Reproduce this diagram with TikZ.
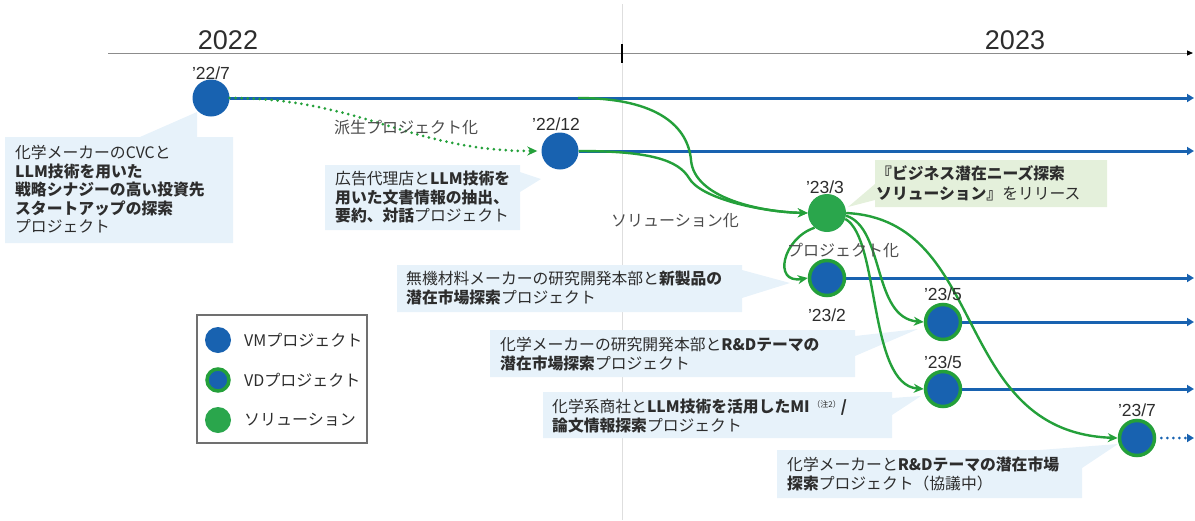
\documentclass[tikz,border=0pt]{standalone}
\usepackage{fontspec}
\setmainfont{Noto Sans CJK JP}
\newfontfamily\lat{Liberation Sans}
\usetikzlibrary{arrows.meta}
\definecolor{vmblue}{RGB}{24,98,176}
\definecolor{vdgreen}{RGB}{36,160,58}
\definecolor{solgreen}{RGB}{42,166,76}
\definecolor{boxblue}{RGB}{231,242,250}
\definecolor{boxgreen}{RGB}{228,240,219}
\definecolor{txtgray}{RGB}{45,45,45}
\definecolor{vgray}{RGB}{222,222,222}
\definecolor{axgray}{RGB}{140,140,140}
\begin{document}
\begin{tikzpicture}[x=1pt,y=-1pt,
  vm/.style={circle, fill=vmblue, minimum size=37pt, inner sep=0pt},
  vd/.style={circle, fill=vmblue, draw=vdgreen, line width=3.5pt, minimum size=35pt, inner sep=0pt},
  sol/.style={circle, fill=solgreen, minimum size=38pt, inner sep=0pt},
  yearlbl/.style={font=\lat\fontsize{27}{27}\selectfont, text=txtgray},
  datelbl/.style={font=\lat\fontsize{17.5}{17.5}\selectfont, text=txtgray},
  body/.style={font=\fontsize{15.8}{18.5}\selectfont, text=txtgray, align=left, inner sep=0pt, anchor=north west},
  flow/.style={font=\fontsize{16}{16}\selectfont, text=txtgray!85},
  bline/.style={vmblue, line width=3pt, -{Triangle[length=7pt,width=8pt]}},
  gline/.style={vdgreen, line width=2.4pt, -{Stealth[length=10pt,width=9pt]}},
  lgtxt/.style={font=\fontsize{16}{16}\selectfont, text=txtgray, anchor=west, inner sep=0pt}
]
\useasboundingbox (0,0) rectangle (1195,520);

% background guide and axis
\draw[vgray, line width=0.8pt] (622,4) -- (622,520);
\draw[axgray, line width=1pt, -{Triangle[length=6pt,width=5pt,color=black]}] (108,53) -- (1193,53);
\draw[black, line width=2.6pt] (622,44) -- (622,63);
\node[yearlbl] (y22) at (228,40) {2022};
\node[yearlbl] (y23) at (1015,40) {2023};

% callout boxes
\fill[boxblue] (5,137) -- (140,137) -- (197,112) -- (197,137) -- (233,137) -- (233,243) -- (5,243) -- cycle;
\fill[boxblue] (325,165) -- (520,165) -- (520,172) -- (541,179) -- (520,192) -- (520,230) -- (325,230) -- cycle;
\fill[boxblue] (397,265) -- (742,265) -- (742,270) -- (790,283) -- (742,298) -- (742,312) -- (397,312) -- cycle;
\fill[boxblue] (490,330) -- (855,330) -- (855,336) -- (918,329) -- (855,356) -- (855,377) -- (490,377) -- cycle;
\fill[boxblue] (543,392) -- (892,392) -- (892,398) -- (921,396) -- (892,415) -- (892,438) -- (543,438) -- cycle;
\fill[boxblue] (777,450) -- (1040,450) -- (1118,444) -- (1082,468) -- (1082,498) -- (777,498) -- cycle;
\fill[boxgreen] (875,160) -- (1107,160) -- (1107,207) -- (875,207) -- (875,200) -- (848,207) -- (875,184) -- cycle;

% callout texts
\node[body] (t1) at (15,145) {化学メーカーのCVCと\\\textbf{LLM技術を用いた}\\\textbf{戦略シナジーの高い投資先}\\\textbf{スタートアップの探索}\\プロジェクト};
\node[body] (t2) at (335,171) {広告代理店と\textbf{LLM技術を}\\\textbf{用いた文書情報の抽出、}\\\textbf{要約、対話}プロジェクト};
\node[body] (t3) at (406,271) {無機材料メーカーの研究開発本部と\textbf{新製品の}\\\textbf{潜在市場探索}プロジェクト};
\node[body] (t4) at (500,337) {化学メーカーの研究開発本部と\textbf{R\&Dテーマの}\\\textbf{潜在市場探索}プロジェクト};
\node[body] (t5) at (552,399) {化学系商社と\textbf{LLM技術を活用したMI}\,\raisebox{5pt}{\fontsize{8}{8}\selectfont（注2）}\textbf{/}\\\textbf{論文情報探索}プロジェクト};
\node[body] (t6) at (787,457) {化学メーカーと\textbf{R\&Dテーマの潜在市場}\\\textbf{探索}プロジェクト（協議中）};
\node[body, font=\fontsize{15.8}{20.5}\selectfont] (t7) at (876,165) {\textbf{『ビジネス潜在ニーズ探索}\\\textbf{ソリューション』}をリリース};

% project nodes
\node[vm] (p1) at (211,98) {};
\node[vm] (p2) at (560,151) {};
\node[sol] (s1) at (827,213) {};
\node[vd] (p3) at (827,278) {};
\node[vd] (p4) at (943,322) {};
\node[vd] (p5) at (943,389) {};
\node[vd] (p6) at (1137,438) {};

\coordinate (e1) at (1194,98);
\coordinate (e2) at (1194,151);
\coordinate (e3) at (1194,278);
\coordinate (e4) at (1194,322);
\coordinate (e5) at (1194,389);
\coordinate (e6) at (1194,438);
\coordinate (j1) at (578,98);

% timelines
\draw[bline] (p1.east) -- (e1);
\draw[bline] (p2.east) -- (e2);
\draw[bline] (p3.east) -- (e3);
\draw[bline] (p4.east) -- (e4);
\draw[bline] (p5.east) -- (e5);
\draw[vmblue, line width=3pt, dash pattern=on 0pt off 6pt, line cap=round, -{Triangle[length=7pt,width=8pt]}] ([xshift=5pt]p6.east) -- (e6);

% green flows
\draw[vdgreen, line width=3pt, dash pattern=on 0pt off 6pt, line cap=round, -{Stealth[length=10pt,width=9pt]}]
  (p1.east) .. controls (360,98) and (410,151) .. ([xshift=-4pt]p2.west);
\draw[gline] (j1) .. controls (660,98) and (688,128) .. (691,160) .. controls (694,198) and (760,212) .. (s1.west);
\draw[gline] (p2.east) .. controls (650,151) and (678,160) .. (689,178) .. controls (700,198) and (760,212) .. (s1.west);
\draw[gline] (s1.230) .. controls (783,238) and (772,284) .. (p3.west);
\draw[gline] (s1.-8) .. controls (885,228) and (872,318) .. (p4.west);
\draw[gline] (s1.-18) .. controls (880,238) and (868,385) .. (p5.west);
\draw[gline] (s1.east) .. controls (990,220) and (950,432) .. (p6.west);

% flow labels
\node[flow] (f1) at (406,127) {派生プロジェクト化};
\node[flow] (f2) at (675,221) {ソリューション化};
\node[flow] (f3) at (843,250) {プロジェクト化};

% date labels
\node[datelbl] (d1) at (211,73) {’22/7};
\node[datelbl] (d2) at (556,124) {’22/12};
\node[datelbl] (d3) at (825,187) {’23/3};
\node[datelbl] (d4) at (827,315) {’23/2};
\node[datelbl] (d5) at (943,294) {’23/5};
\node[datelbl] (d6) at (943,362) {’23/5};
\node[datelbl] (d7) at (1137,410) {’23/7};

% legend
\draw[axgray!80!black, line width=1.3pt] (197,315) rectangle (367,443);
\node[vm, minimum size=26pt] (lg1) at (218,340) {};
\node[vd, minimum size=22pt] (lg2) at (218,380) {};
\node[sol, minimum size=26pt] (lg3) at (218,420) {};
\node[lgtxt] (lt1) at (244,340) {VMプロジェクト};
\node[lgtxt] (lt2) at (244,380) {VDプロジェクト};
\node[lgtxt] (lt3) at (244,420) {ソリューション};
\end{tikzpicture}
\end{document}
